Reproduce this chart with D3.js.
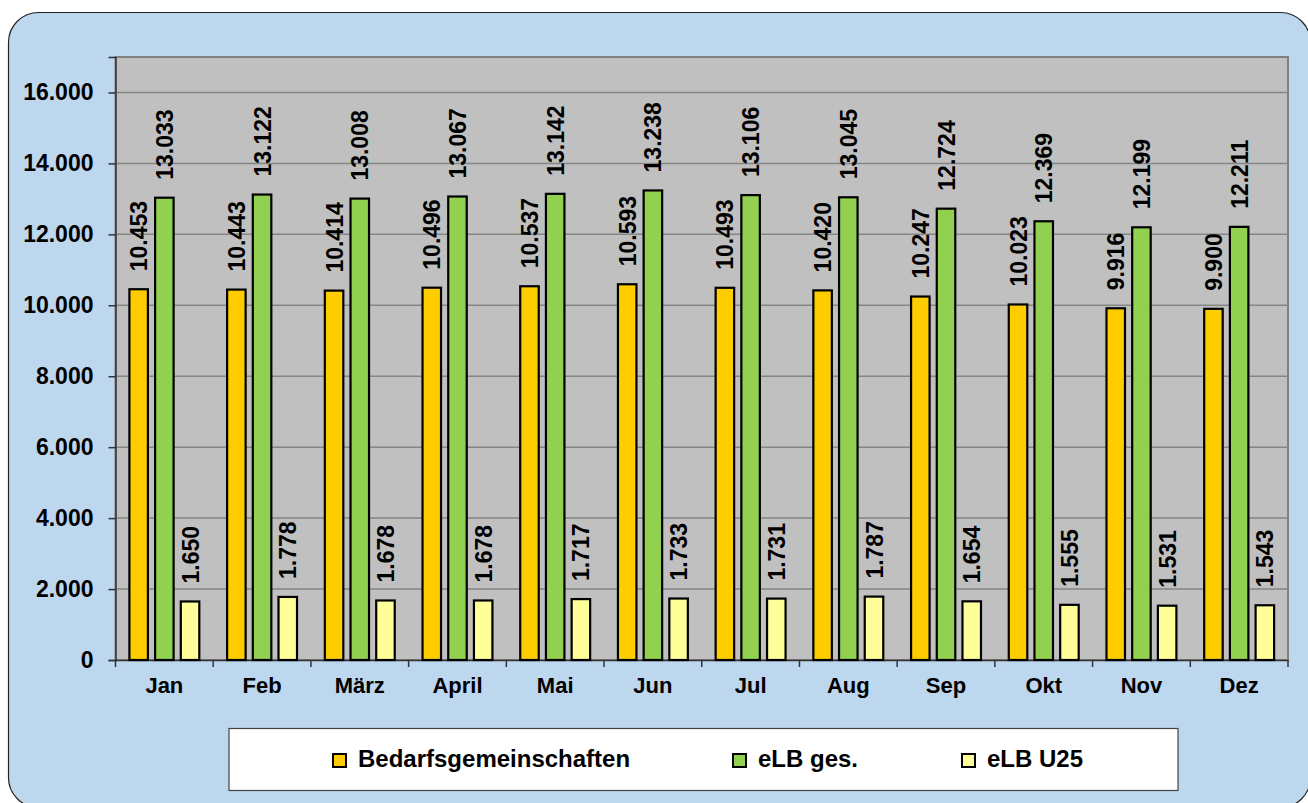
<!DOCTYPE html>
<html>
<head>
<meta charset="utf-8">
<script src="https://cdn.jsdelivr.net/npm/d3@7"></script>
<style>
  body { margin: 0; background: #fff; }
  text { font-family: "Liberation Sans", Arial, sans-serif; font-weight: bold; fill: #000; }
</style>
</head>
<body>
<svg id="chart" width="1308" height="803"></svg>
<script>
// ---DATA---//
var months = ["Jan", "Feb", "März", "April", "Mai", "Jun", "Jul", "Aug", "Sep", "Okt", "Nov", "Dez"];
var seriesNames = ["Bedarfsgemeinschaften", "eLB ges.", "eLB U25"];
var bedarfsgemeinschaften = [10453, 10443, 10414, 10496, 10537, 10593, 10493, 10420, 10247, 10023, 9916, 9900];
var elbGes = [13033, 13122, 13008, 13067, 13142, 13238, 13106, 13045, 12724, 12369, 12199, 12211];
var elbU25 = [1650, 1778, 1678, 1678, 1717, 1733, 1731, 1787, 1654, 1555, 1531, 1543];
var yTicks = [0, 2000, 4000, 6000, 8000, 10000, 12000, 14000, 16000];

var colors = ["#FFCC00", "#92D050", "#FFFF99"];
var seriesValues = [bedarfsgemeinschaften, elbGes, elbU25];

// german number format: 10.453
var de = d3.formatLocale({ decimal: ",", thousands: ".", grouping: [3], currency: ["", "€"] });
var fmt = de.format(",d");

// ---LAYOUT---//
var svg = d3.select("#chart");
var plot = { left: 115.5, top: 57, right: 1288, bottom: 660 };

// outer rounded frame
svg.append("rect")
  .attr("x", 8.5).attr("y", 12.5)
  .attr("width", 1302).attr("height", 795)
  .attr("rx", 30).attr("ry", 30)
  .attr("fill", "#BDD7EE")
  .attr("stroke", "#222").attr("stroke-width", 1.2);

var x0 = d3.scaleBand().domain(months).range([plot.left, plot.right]).paddingInner(0).paddingOuter(0);
var x1 = d3.scaleBand().domain(d3.range(3))
  .range([13.9, x0.bandwidth() - 13.9]).paddingInner(0.28).paddingOuter(0);
var y = d3.scaleLinear().domain([0, 17000]).range([plot.bottom, plot.top]);

// plot area
svg.append("rect")
  .attr("x", plot.left).attr("y", plot.top)
  .attr("width", plot.right - plot.left).attr("height", plot.bottom - plot.top)
  .attr("fill", "#C0C0C0")
  .attr("stroke", "#808080").attr("stroke-width", 2);

// gridlines
svg.append("g").selectAll("line").data(yTicks.filter(function(d) { return d > 0; })).enter()
  .append("line")
  .attr("x1", plot.left).attr("x2", plot.right)
  .attr("y1", function(d) { return y(d); }).attr("y2", function(d) { return y(d); })
  .attr("stroke", "#858585").attr("stroke-width", 1.5);

// y axis
var yAxis = d3.axisLeft(y).tickValues(yTicks).tickFormat(fmt).tickSize(7).tickPadding(15);
var gy = svg.append("g").attr("transform", "translate(" + plot.left + ",0)").call(yAxis)
  .attr("font-size", 23).attr("font-family", null);
gy.select(".domain").attr("stroke", "#333").attr("stroke-width", 1.5);
gy.selectAll(".tick line").attr("stroke", "#333").attr("stroke-width", 1.5);
gy.selectAll(".tick text").style("font-size", "23px").attr("fill", "#000");

// x axis
var xAxis = d3.axisBottom(x0).tickSize(0).tickPadding(17);
var gx = svg.append("g").attr("transform", "translate(0," + plot.bottom + ")").call(xAxis)
  .attr("font-size", 22).attr("font-family", null);
gx.select(".domain").attr("stroke", "#333").attr("stroke-width", 1.5);
gx.selectAll(".tick text").style("font-size", "22px").attr("fill", "#000");

// category separator ticks
var sepPos = months.map(function(m) { return x0(m); }).concat([plot.right]);
svg.append("g").selectAll("line").data(sepPos).enter()
  .append("line")
  .attr("x1", function(d) { return d; }).attr("x2", function(d) { return d; })
  .attr("y1", plot.bottom).attr("y2", plot.bottom + 7)
  .attr("stroke", "#333").attr("stroke-width", 1.5);

// bars
var groups = svg.append("g").selectAll("g").data(months).enter()
  .append("g")
  .attr("transform", function(d) { return "translate(" + x0(d) + ",0)"; });

groups.each(function(m, i) {
  var g = d3.select(this);
  var rows = seriesValues.map(function(vals, s) { return { s: s, v: vals[i] }; });

  g.selectAll("rect").data(rows).enter()
    .append("rect")
    .attr("x", function(d) { return x1(d.s); })
    .attr("y", function(d) { return y(d.v); })
    .attr("width", x1.bandwidth())
    .attr("height", function(d) { return y(0) - y(d.v); })
    .attr("fill", function(d) { return colors[d.s]; })
    .attr("stroke", "#000").attr("stroke-width", 2.2);

  // value labels, rotated
  g.selectAll("text.lbl").data(rows).enter()
    .append("text")
    .attr("class", "lbl")
    .attr("transform", function(d) {
      var cx = x1(d.s) + x1.bandwidth() / 2;
      return "translate(" + (cx + 8.5) + "," + (y(d.v) - 18) + ") rotate(-90)";
    })
    .attr("text-anchor", "start")
    .style("font-size", "23px")
    .text(function(d) { return fmt(d.v); });
});

// legend
var legend = svg.append("g");
legend.append("rect")
  .attr("x", 229).attr("y", 728.5)
  .attr("width", 949).attr("height", 62)
  .attr("fill", "#fff").attr("stroke", "#444").attr("stroke-width", 1.2);

var legendX = [333, 733, 962];
var items = legend.selectAll("g").data(seriesNames).enter()
  .append("g")
  .attr("transform", function(d, i) { return "translate(" + legendX[i] + ",754)"; });
items.append("rect")
  .attr("width", 13).attr("height", 13)
  .attr("fill", function(d, i) { return colors[i]; })
  .attr("stroke", "#000").attr("stroke-width", 2);
items.append("text")
  .attr("x", 25).attr("y", 13)
  .style("font-size", "24px")
  .text(function(d) { return d; });
</script>
</body>
</html>
